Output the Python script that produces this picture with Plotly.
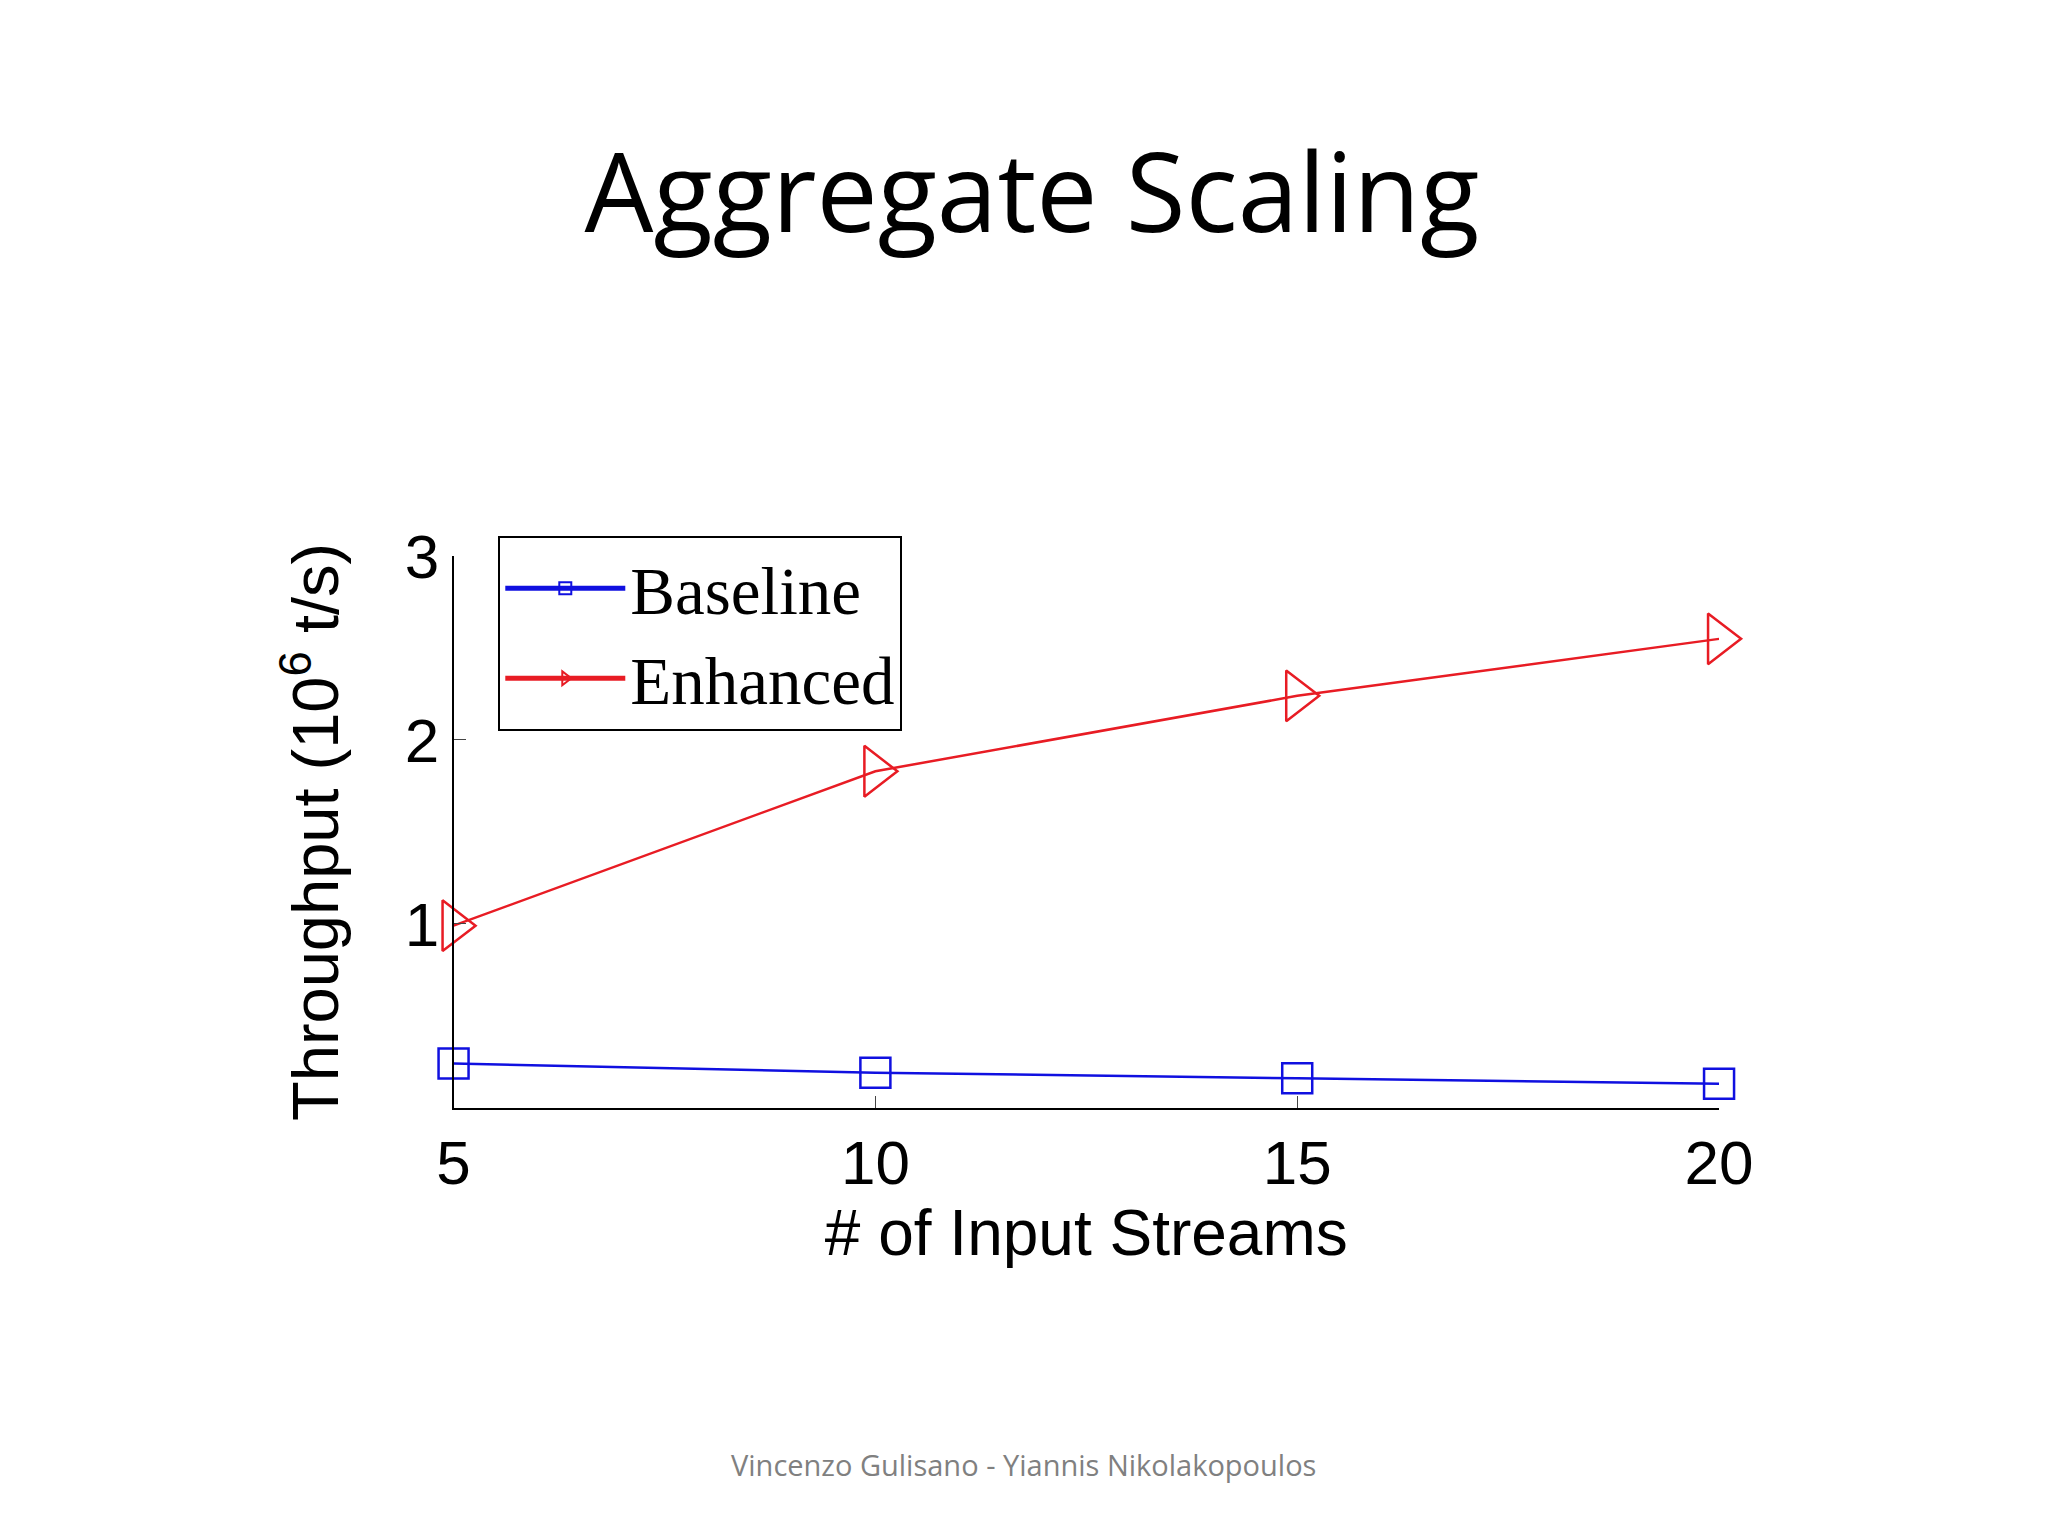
import plotly.graph_objects as go

streams = [5, 10, 15, 20]
baseline = [0.24, 0.19, 0.16, 0.13]
enhanced = [0.99, 1.83, 2.24, 2.55]

fig = go.Figure()
fig.add_trace(go.Scatter(x=streams, y=baseline, name="Baseline", mode="lines+markers",
    line=dict(color="#1010e0", width=2.5),
    marker=dict(symbol="square-open", size=30, color="#1010e0", line=dict(width=2.5))))
fig.add_trace(go.Scatter(x=streams, y=enhanced, name="Enhanced", mode="lines+markers",
    line=dict(color="#e81c24", width=2.5),
    marker=dict(symbol="triangle-right-open", size=44, color="#e81c24", line=dict(width=2.5))))

fig.update_layout(
    width=2048, height=1536, paper_bgcolor="white", plot_bgcolor="white",
    margin=dict(l=0, r=0, t=0, b=0),
    title=dict(text="Aggregate Scaling", x=0.5, xanchor="center", y=0.879, yanchor="middle",
               font=dict(family="Open Sans", size=109, color="black")),
    xaxis=dict(domain=[0.2146, 0.8483], range=[5, 20], tickvals=streams, ticks="inside",
               ticklen=12, showline=True, linecolor="black", linewidth=2, showgrid=False,
               zeroline=False, tickfont=dict(family="Liberation Sans", size=62, color="black"),
               title=dict(text="# of Input Streams", font=dict(family="Liberation Sans", size=64, color="black"), standoff=4)),
    yaxis=dict(domain=[0.2905, 0.6577], range=[0, 3], tickvals=[1, 2, 3], ticks="inside",
               ticklen=12, showline=True, linecolor="black", linewidth=2, showgrid=False,
               zeroline=False, tickfont=dict(family="Liberation Sans", size=62, color="black"),
               title=dict(text="Throughput (10<sup>6</sup> t/s)", font=dict(family="Liberation Sans", size=65, color="black"), standoff=45)),
    legend=dict(x=0.237, y=0.671, xanchor="left", yanchor="top", bordercolor="black", borderwidth=2,
                bgcolor="white", font=dict(family="Liberation Serif", size=67, color="black"),
                itemwidth=120, itemsizing="constant", tracegroupgap=0),
    showlegend=True,
    annotations=[dict(text="Vincenzo Gulisano - Yiannis Nikolakopoulos", x=0.5, y=0.0386,
                      xref="paper", yref="paper", showarrow=False,
                      font=dict(family="Open Sans", size=29, color="#808080"))],
)
fig.update_traces(cliponaxis=False)
fig.write_html("out.html")
